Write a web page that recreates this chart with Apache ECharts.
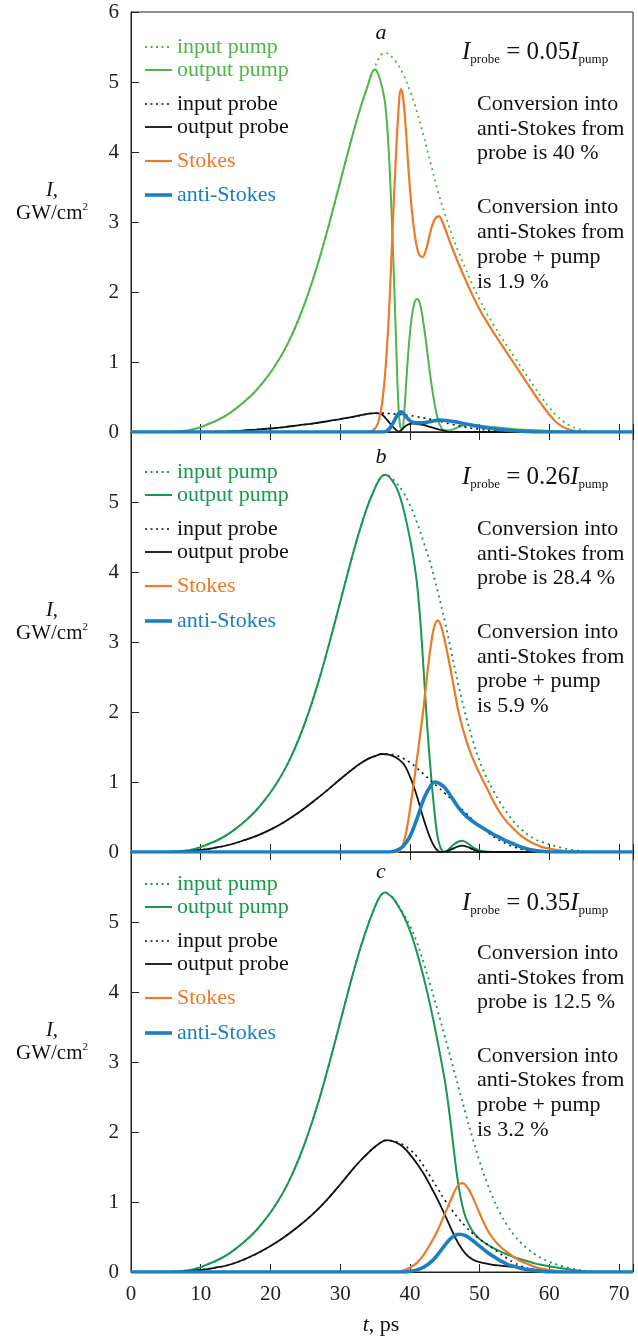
<!DOCTYPE html>
<html>
<head>
<meta charset="utf-8" />
<title>Pump / probe / Stokes / anti-Stokes</title>
<script src="https://cdn.jsdelivr.net/npm/echarts@6/dist/echarts.min.js"></script>
<style>
  body { margin: 0; background: #fff; }
  #main { width: 638px; height: 1341px; }
</style>
</head>
<body>
<div id="main"></div>
<script>
// ---- data, [t (ps), I (GW/cm2)] ----
// panel a : Iprobe = 0.05 Ipump
const pumpInA = [[0,0],[5,0],[6,0.005],[7,0.01],[8,0.02],[9,0.04],[10,0.07],[11,0.11],[12,0.15],[13,0.2],[14,0.26],[15,0.33],[16,0.41],[17,0.5],[18,0.6],[19,0.72],[20,0.85],[21,1.0],[22,1.17],[23,1.37],[24,1.6],[25,1.86],[26,2.15],[27,2.47],[28,2.82],[29,3.19],[30,3.57],[31,3.95],[32,4.32],[33,4.66],[34,4.96],[35,5.22],[35.5,5.33],[36,5.4],[36.5,5.42],[37,5.39],[37.5,5.35],[38,5.29],[39,5.12],[40,4.88],[41,4.58],[42,4.22],[43,3.83],[44,3.45],[45,3.12],[46,2.83],[47,2.57],[48,2.33],[49,2.1],[50,1.89],[51,1.7],[52,1.53],[53,1.37],[54,1.22],[55,1.07],[56,0.92],[57,0.77],[58,0.62],[59,0.48],[60,0.35],[61,0.24],[62,0.15],[63,0.09],[64,0.05],[65,0.02],[66,0.01],[67,0],[72,0]];
const pumpOutA = [[0,0],[5,0],[6,0.005],[7,0.01],[8,0.02],[9,0.04],[10,0.07],[11,0.11],[12,0.15],[13,0.2],[14,0.26],[15,0.33],[16,0.41],[17,0.5],[18,0.6],[19,0.72],[20,0.85],[21,1.0],[22,1.17],[23,1.37],[24,1.6],[25,1.86],[26,2.15],[27,2.47],[28,2.82],[29,3.19],[30,3.57],[31,3.95],[32,4.32],[33,4.66],[34,4.96],[34.5,5.12],[35,5.18],[35.5,5.1],[36,4.93],[36.5,4.65],[37,3.95],[37.5,2.8],[38,1.35],[38.3,0.5],[38.6,0.08],[38.9,0.04],[39.2,0.3],[39.6,0.9],[40,1.4],[40.5,1.78],[41,1.9],[41.4,1.85],[41.8,1.65],[42.3,1.3],[42.8,0.9],[43.3,0.55],[43.8,0.27],[44.3,0.1],[44.8,0.03],[45.5,0.02],[46.5,0.05],[47.5,0.09],[48.5,0.11],[49.5,0.1],[51,0.08],[53,0.06],[55,0.04],[57,0.03],[59,0.02],[61,0.01],[63,0],[72,0]];
const probeInA = [[0,0],[10,0],[12,0.005],[14,0.01],[16,0.02],[18,0.035],[20,0.05],[22,0.07],[24,0.095],[26,0.12],[28,0.15],[30,0.185],[32,0.22],[33,0.24],[34,0.26],[35,0.27],[36,0.27],[37,0.265],[38,0.255],[39,0.245],[40,0.235],[41,0.22],[42,0.2],[43,0.18],[44,0.16],[45,0.135],[46,0.11],[47,0.09],[48,0.07],[49,0.05],[50,0.04],[52,0.02],[54,0.01],[56,0],[72,0]];
const probeOutA = [[0,0],[10,0],[12,0.005],[14,0.01],[16,0.02],[18,0.035],[20,0.05],[22,0.07],[24,0.095],[26,0.12],[28,0.15],[30,0.185],[32,0.22],[33,0.24],[34,0.26],[35,0.27],[35.5,0.265],[36,0.25],[36.5,0.2],[37,0.14],[37.5,0.08],[38,0.03],[38.4,0.005],[38.8,0.03],[39.3,0.08],[39.8,0.11],[40.3,0.12],[41,0.115],[42,0.1],[43,0.07],[44,0.04],[45,0.015],[46,0],[72,0]];
const stokesA = [[0,0],[34,0],[35,0.05],[35.5,0.15],[36,0.4],[36.5,0.9],[37,1.7],[37.5,2.85],[38,3.95],[38.4,4.65],[38.7,4.9],[39,4.8],[39.4,4.35],[39.8,3.75],[40.3,3.15],[40.8,2.75],[41.3,2.54],[41.8,2.5],[42.3,2.6],[42.8,2.8],[43.3,2.98],[43.8,3.07],[44.2,3.08],[44.6,3.02],[45,2.92],[45.5,2.78],[46,2.65],[47,2.4],[48,2.17],[49,1.95],[50,1.75],[51,1.58],[52,1.42],[53,1.27],[54,1.12],[55,0.97],[56,0.82],[57,0.67],[58,0.52],[59,0.38],[60,0.25],[61,0.14],[62,0.07],[63,0.03],[64,0.01],[65,0],[72,0]];
const antiA = [[0,0],[36.3,0],[37,0.04],[37.6,0.13],[38.2,0.24],[38.7,0.29],[39.2,0.25],[39.8,0.18],[40.4,0.14],[41.2,0.13],[42.2,0.135],[43.2,0.155],[44.2,0.17],[45.2,0.165],[46.5,0.145],[48,0.115],[49.5,0.085],[51,0.06],[52.5,0.04],[54,0.025],[56,0.01],[58,0],[72,0]];

// panel b : Iprobe = 0.26 Ipump
const pumpInB = [[0,0],[5,0],[6,0.005],[7,0.01],[8,0.02],[9,0.04],[10,0.07],[11,0.11],[12,0.15],[13,0.2],[14,0.26],[15,0.33],[16,0.41],[17,0.5],[18,0.6],[19,0.72],[20,0.85],[21,1.0],[22,1.17],[23,1.37],[24,1.6],[25,1.86],[26,2.15],[27,2.47],[28,2.82],[29,3.19],[30,3.57],[31,3.95],[32,4.32],[33,4.66],[34,4.96],[35,5.2],[35.5,5.3],[36,5.37],[36.5,5.39],[37,5.37],[37.5,5.33],[38,5.28],[39,5.15],[40,4.96],[41,4.71],[42,4.42],[43,4.1],[44,3.72],[45,3.3],[46,2.83],[47,2.37],[48,1.96],[49,1.6],[50,1.3],[51,1.06],[52,0.87],[53,0.7],[54,0.55],[55,0.42],[56,0.32],[57,0.24],[58,0.18],[59,0.14],[60,0.11],[61,0.08],[62,0.055],[63,0.035],[64,0.02],[65,0.01],[66,0],[72,0]];
const pumpOutB = [[0,0],[5,0],[6,0.005],[7,0.01],[8,0.02],[9,0.04],[10,0.07],[11,0.11],[12,0.15],[13,0.2],[14,0.26],[15,0.33],[16,0.41],[17,0.5],[18,0.6],[19,0.72],[20,0.85],[21,1.0],[22,1.17],[23,1.37],[24,1.6],[25,1.86],[26,2.15],[27,2.47],[28,2.82],[29,3.19],[30,3.57],[31,3.95],[32,4.32],[33,4.66],[34,4.96],[35,5.2],[35.5,5.3],[36,5.37],[36.5,5.39],[37,5.36],[37.5,5.3],[38,5.22],[38.5,5.1],[39,4.93],[39.5,4.72],[40,4.48],[40.5,4.2],[41,3.85],[41.5,3.3],[42,2.55],[42.5,1.78],[43,1.14],[43.5,0.6],[44,0.2],[44.5,0.04],[45,0],[45.5,0.03],[46.2,0.1],[47,0.15],[47.5,0.16],[48.2,0.13],[49,0.07],[49.8,0.03],[50.5,0.01],[52,0],[72,0]];
const probeInB = [[0,0],[6,0],[8,0.01],[10,0.03],[12,0.06],[14,0.1],[16,0.16],[18,0.23],[20,0.32],[22,0.43],[24,0.56],[26,0.71],[28,0.87],[30,1.04],[32,1.2],[33,1.27],[34,1.33],[35,1.37],[36,1.4],[37,1.4],[38,1.38],[39,1.34],[40,1.28],[41,1.2],[42,1.11],[43,1.02],[44,0.93],[45,0.84],[46,0.75],[47,0.65],[48,0.56],[49,0.46],[50,0.37],[51,0.29],[52,0.22],[53,0.16],[54,0.11],[55,0.07],[56,0.04],[57,0.02],[58,0.01],[59,0],[72,0]];
const probeOutB = [[0,0],[6,0],[8,0.01],[10,0.03],[12,0.06],[14,0.1],[16,0.16],[18,0.23],[20,0.32],[22,0.43],[24,0.56],[26,0.71],[28,0.87],[30,1.04],[32,1.2],[33,1.27],[34,1.33],[35,1.37],[36,1.4],[37,1.39],[38,1.35],[39,1.27],[39.5,1.19],[40,1.08],[40.5,0.95],[41,0.8],[41.5,0.63],[42,0.46],[42.5,0.31],[43,0.18],[43.5,0.08],[44,0.02],[44.5,0],[45.2,0.01],[46,0.04],[46.8,0.075],[47.5,0.09],[48.2,0.075],[49,0.04],[49.8,0.01],[50.5,0],[72,0]];
const stokesB = [[0,0],[38,0],[38.5,0.02],[39,0.1],[39.5,0.3],[40,0.6],[40.5,0.95],[41,1.32],[41.5,1.7],[42,2.1],[42.5,2.55],[43,2.95],[43.5,3.22],[44,3.31],[44.5,3.22],[45,3.02],[45.5,2.78],[46,2.52],[46.5,2.25],[47,1.99],[48,1.62],[49,1.34],[50,1.12],[51,0.92],[52,0.72],[53,0.55],[54,0.42],[55,0.32],[56,0.23],[57,0.16],[58,0.11],[59,0.07],[60,0.05],[61,0.03],[62,0.015],[63,0.005],[64,0],[72,0]];
const antiB = [[0,0],[37,0],[38,0.02],[39,0.08],[40,0.22],[41,0.47],[42,0.76],[43,0.95],[43.6,1.0],[44.2,0.98],[45,0.92],[46,0.78],[47,0.63],[48,0.52],[49,0.44],[50,0.37],[51,0.31],[52,0.25],[53,0.2],[54,0.15],[55,0.11],[56,0.07],[57,0.04],[58,0.02],[59,0.01],[60,0],[72,0]];

// panel c : Iprobe = 0.35 Ipump
const pumpInC = [[0,0],[5,0],[6,0.005],[7,0.01],[8,0.02],[9,0.04],[10,0.07],[11,0.11],[12,0.15],[13,0.2],[14,0.26],[15,0.33],[16,0.41],[17,0.5],[18,0.6],[19,0.72],[20,0.85],[21,1.0],[22,1.17],[23,1.37],[24,1.6],[25,1.86],[26,2.15],[27,2.47],[28,2.82],[29,3.19],[30,3.57],[31,3.95],[32,4.32],[33,4.66],[34,4.96],[35,5.22],[35.5,5.33],[36,5.4],[36.5,5.42],[37,5.39],[37.5,5.35],[38,5.29],[39,5.13],[40,4.95],[41,4.71],[42,4.41],[43,4.08],[44,3.73],[45,3.37],[46,3.0],[47,2.63],[48,2.26],[49,1.91],[50,1.58],[51,1.29],[52,1.04],[53,0.83],[54,0.66],[55,0.52],[56,0.41],[57,0.32],[58,0.25],[59,0.19],[60,0.145],[61,0.11],[62,0.08],[63,0.055],[64,0.035],[65,0.02],[66,0.01],[67,0],[72,0]];
const pumpOutC = [[0,0],[5,0],[6,0.005],[7,0.01],[8,0.02],[9,0.04],[10,0.07],[11,0.11],[12,0.15],[13,0.2],[14,0.26],[15,0.33],[16,0.41],[17,0.5],[18,0.6],[19,0.72],[20,0.85],[21,1.0],[22,1.17],[23,1.37],[24,1.6],[25,1.86],[26,2.15],[27,2.47],[28,2.82],[29,3.19],[30,3.57],[31,3.95],[32,4.32],[33,4.66],[34,4.96],[35,5.22],[35.5,5.33],[36,5.4],[36.5,5.42],[37,5.39],[37.5,5.35],[38,5.28],[39,5.11],[40,4.88],[41,4.57],[42,4.2],[43,3.77],[44,3.28],[45,2.74],[45.5,2.4],[46,2.0],[46.5,1.58],[47,1.22],[47.5,0.96],[48,0.78],[49,0.58],[50,0.47],[51,0.4],[52,0.34],[53,0.29],[54,0.25],[55,0.21],[56,0.18],[57,0.15],[58,0.12],[59,0.1],[60,0.08],[61,0.065],[62,0.05],[63,0.035],[64,0.02],[65,0.01],[66,0],[72,0]];
const probeInC = [[0,0],[6,0],[8,0.01],[10,0.03],[12,0.06],[14,0.1],[16,0.17],[18,0.26],[20,0.37],[22,0.5],[24,0.65],[26,0.82],[28,1.02],[30,1.25],[32,1.49],[33,1.6],[34,1.7],[35,1.79],[36,1.86],[36.5,1.88],[37,1.88],[38,1.86],[39,1.82],[40,1.75],[41,1.65],[42,1.51],[43,1.35],[44,1.19],[45,1.03],[46,0.89],[47,0.76],[48,0.65],[49,0.55],[50,0.47],[51,0.4],[52,0.33],[53,0.26],[54,0.19],[55,0.13],[56,0.08],[57,0.05],[58,0.03],[59,0.015],[60,0.005],[61,0],[72,0]];
const probeOutC = [[0,0],[6,0],[8,0.01],[10,0.03],[12,0.06],[14,0.1],[16,0.17],[18,0.26],[20,0.37],[22,0.5],[24,0.65],[26,0.82],[28,1.02],[30,1.25],[32,1.49],[33,1.6],[34,1.7],[35,1.79],[36,1.86],[36.5,1.88],[37,1.88],[38,1.85],[39,1.79],[40,1.68],[41,1.55],[42,1.4],[43,1.22],[44,1.03],[45,0.82],[46,0.6],[47,0.4],[48,0.26],[49,0.18],[50,0.14],[51,0.12],[52,0.1],[53,0.09],[54,0.08],[55,0.07],[56,0.055],[57,0.04],[58,0.03],[59,0.02],[60,0.01],[61,0],[72,0]];
const stokesC = [[0,0],[38,0],[39,0.02],[40,0.06],[41,0.13],[42,0.25],[43,0.41],[44,0.6],[45,0.83],[46,1.06],[46.5,1.17],[47,1.25],[47.5,1.27],[48,1.24],[48.5,1.17],[49,1.07],[50,0.84],[51,0.62],[52,0.47],[53,0.36],[54,0.28],[55,0.21],[56,0.15],[57,0.11],[58,0.07],[59,0.045],[60,0.03],[61,0.015],[62,0.005],[63,0],[72,0]];
const antiC = [[0,0],[39,0],[40,0.01],[41,0.03],[42,0.07],[43,0.14],[44,0.25],[45,0.38],[46,0.49],[47,0.54],[48,0.52],[49,0.45],[50,0.37],[51,0.29],[52,0.22],[53,0.16],[54,0.11],[55,0.08],[56,0.05],[57,0.03],[58,0.02],[59,0.01],[60,0],[72,0]];

const panelLetters = ['a', 'b', 'c'];
const ratios = ['0.05', '0.26', '0.35'];
const fromProbe = ['40', '28.4', '12.5'];
const fromBoth = ['1.9', '5.9', '3.2'];
const legendNames = ['input pump', 'output pump', 'input probe', 'output probe', 'Stokes', 'anti-Stokes'];
const xTicks = [0, 10, 20, 30, 40, 50, 60, 70];

const panels = [
  [pumpInA, pumpOutA, probeInA, probeOutA, stokesA, antiA],
  [pumpInB, pumpOutB, probeInB, probeOutB, stokesB, antiB],
  [pumpInC, pumpOutC, probeInC, probeOutC, stokesC, antiC]
];

// ---- look ----
const serif = '"Liberation Serif", "Times New Roman", serif';
const tops = [12, 432, 852];
const plotH = 420;
const gridLeft = 131;
const gridRight = 5;
const greens = ['#4db648', '#16994a', '#16994a'];
const orange = '#ec7a26';
const blue = '#1b7ec2';
const black = '#111';

function styles(p) {
  return [
    { color: greens[p], width: 1.8, type: [2, 4] },
    { color: greens[p], width: 2 },
    { color: black, width: 1.6, type: [2, 4] },
    { color: black, width: 1.8 },
    { color: orange, width: 2.2 },
    { color: blue, width: 3.6 }
  ];
}

const legendOffsets = [
  [35, 58, 92, 115, 149, 183],
  [40, 63, 97, 120, 154, 189],
  [32, 55, 89, 112, 146, 181]
];
const ratioOffset = [40, 45, 51];
const convOffsets = [
  [92, 117, 141, 195, 220, 245, 270],
  [97, 122, 146, 200, 225, 249, 274],
  [101, 126, 150, 204, 228, 253, 278]
];
const letterOffset = [21, 25, 20];

const chart = echarts.init(document.getElementById('main'), null, { renderer: 'canvas' });

const grids = [], xAxes = [], yAxes = [], series = [], graphic = [];

function tickAxis(p, pos, labels) {
  return {
    type: 'value', gridIndex: p, min: 0, max: 72, interval: 10, position: pos,
    axisLine: { show: true, onZero: false, lineStyle: { color: '#222', width: 1 } },
    axisTick: { show: true, inside: true, length: 8, lineStyle: { color: '#222' } },
    axisLabel: {
      show: labels, margin: 12, color: '#222', fontFamily: serif, fontSize: 21,
      formatter: function (v) { return xTicks.indexOf(v) >= 0 ? String(v) : ''; }
    },
    splitLine: { show: false }
  };
}

panels.forEach(function (sets, p) {
  grids.push({
    left: gridLeft, right: gridRight, top: tops[p], height: plotH,
    show: true, borderColor: '#222', borderWidth: 1, backgroundColor: 'transparent'
  });
  xAxes.push(tickAxis(p, 'bottom', p === 2));
  yAxes.push({
    type: 'value', gridIndex: p, min: 0, max: 6, interval: 1,
    axisLine: { show: true, lineStyle: { color: '#222', width: 1 } },
    axisTick: { show: true, inside: true, length: 8, lineStyle: { color: '#222' } },
    axisLabel: {
      margin: 12, color: '#222', fontFamily: serif, fontSize: 21,
      formatter: function (v) { return (p > 0 && v === 6) ? '' : String(v); }
    },
    splitLine: { show: false }
  });
  const st = styles(p);
  sets.forEach(function (d, k) {
    series.push({
      name: legendNames[k] + ' ' + panelLetters[p],
      type: 'line', xAxisIndex: p, yAxisIndex: p, data: d,
      showSymbol: false, smooth: 0.4,
      lineStyle: Object.assign({ cap: 'butt', join: 'round' }, st[k]),
      z: 2 + k, silent: true
    });

    // legend row drawn by hand
    const ly = tops[p] + legendOffsets[p][k];
    graphic.push({
      type: 'line', silent: true,
      shape: { x1: 145, y1: ly, x2: 172, y2: ly },
      style: {
        stroke: st[k].color, lineWidth: st[k].width,
        lineDash: st[k].type ? [2, 3.5] : null
      }
    });
    graphic.push({
      type: 'text', x: 177, y: ly, silent: true,
      style: {
        text: legendNames[k], fill: k >= 4 ? st[k].color : (k < 2 ? greens[p] : black),
        font: '22px ' + serif, verticalAlign: 'middle', align: 'left'
      }
    });
  });

  // panel letter
  graphic.push({
    type: 'text', x: 381, y: tops[p] + letterOffset[p], silent: true,
    style: { text: panelLetters[p], fill: '#111', font: 'italic 22px ' + serif, align: 'center', verticalAlign: 'middle' }
  });
  // Iprobe = k Ipump
  graphic.push({
    type: 'text', x: 462, y: tops[p] + ratioOffset[p], silent: true,
    style: {
      text: '{i|I}{s|probe}{n| = ' + ratios[p] + '}{i|I}{s|pump}',
      align: 'left', verticalAlign: 'middle', fill: '#111',
      rich: {
        i: { fontFamily: serif, fontSize: 25, fontStyle: 'italic', lineHeight: 28, fill: '#111' },
        n: { fontFamily: serif, fontSize: 25, lineHeight: 28, fill: '#111' },
        s: { fontFamily: serif, fontSize: 13, lineHeight: 13, verticalAlign: 'bottom', fill: '#111' }
      }
    }
  });
  // conversion notes
  const lines = ['Conversion into', 'anti-Stokes from', 'probe is ' + fromProbe[p] + ' %',
    'Conversion into', 'anti-Stokes from', 'probe + pump', 'is ' + fromBoth[p] + ' %'];
  lines.forEach(function (s, i) {
    graphic.push({
      type: 'text', x: 477, y: tops[p] + convOffsets[p][i], silent: true,
      style: { text: s, fill: '#111', font: '22px ' + serif, align: 'left', verticalAlign: 'middle' }
    });
  });
  // y axis title
  graphic.push({
    type: 'text', x: 52, y: tops[p] + 178, silent: true,
    style: { text: 'I,', fill: '#111', font: 'italic 21px ' + serif, align: 'center', verticalAlign: 'middle' }
  });
  graphic.push({
    type: 'text', x: 52, y: tops[p] + 201, silent: true,
    style: {
      text: '{n|GW/cm}{u|2}', align: 'center', verticalAlign: 'middle',
      rich: {
        n: { fontFamily: serif, fontSize: 21, lineHeight: 22, fill: '#111' },
        u: { fontFamily: serif, fontSize: 11, lineHeight: 22, verticalAlign: 'top', fill: '#111' }
      }
    }
  });
});

// inward ticks on the top edge of the lower two panels
[1, 2].forEach(function (p) { xAxes.push(tickAxis(p, 'top', false)); });

// x axis title
graphic.push({
  type: 'text', x: 381, y: 1325, silent: true,
  style: {
    text: '{i|t}{n|, ps}', align: 'center', verticalAlign: 'middle',
    rich: {
      i: { fontFamily: serif, fontSize: 22, fontStyle: 'italic', fill: '#111' },
      n: { fontFamily: serif, fontSize: 22, fill: '#111' }
    }
  }
});

chart.setOption({
  animation: false,
  backgroundColor: '#fff',
  grid: grids,
  xAxis: xAxes,
  yAxis: yAxes,
  series: series,
  graphic: graphic
});
</script>
</body>
</html>
